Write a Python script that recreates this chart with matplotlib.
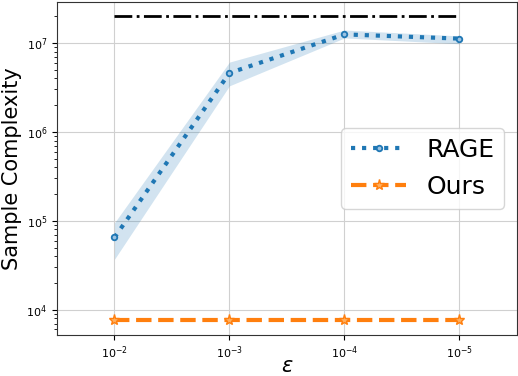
import numpy as np
import matplotlib
matplotlib.use("Agg")
import matplotlib.pyplot as plt

# данные
eps_labels = [r"$10^{-2}$", r"$10^{-3}$", r"$10^{-4}$", r"$10^{-5}$"]
rage_mean = [6.5e4, 4.6e6, 1.25e7, 1.12e7]
rage_low = [3.7e4, 3.3e6, 1.14e7, 9.8e6]
rage_high = [9.5e4, 6.1e6, 1.4e7, 1.2e7]
ours_mean = [7.7e3, 7.7e3, 7.7e3, 7.7e3]
upper_bound = [2.0e7, 2.0e7, 2.0e7, 2.0e7]

x = np.arange(len(eps_labels))

fig = plt.figure(figsize=(5.18, 3.76), dpi=100)
ax = fig.add_axes([0.110, 0.109, 0.888, 0.886])

ax.plot(x, upper_bound, color="black", linestyle="-.", linewidth=2)
ax.plot(x, rage_mean, color="#1f77b4", linestyle=":", linewidth=3, marker="o",
        markersize=4, markerfacecolor="#9cc3e3", markeredgewidth=1.3, label="RAGE")
ax.fill_between(x, rage_low, rage_high, color="#1f77b4", alpha=0.2, linewidth=0)
ax.plot(x, ours_mean, color="#ff7f0e", linestyle="--", linewidth=3, marker="*",
        markersize=8, markerfacecolor="#ffb060", markeredgewidth=1.0, label="Ours")

ax.set_yscale("log")
ax.set_ylim(5.2e3, 2.9e7)
ax.set_xlim(-0.5, 3.5)
ax.set_xticks(x)
ax.set_xticklabels(eps_labels)
ax.tick_params(labelsize=8)
ax.grid(True, color="#d0d0d0")
ax.set_axisbelow(True)

ax.set_xlabel(r"$\varepsilon$", fontsize=15, labelpad=-4)
ax.set_ylabel("Sample Complexity", fontsize=15, labelpad=3)
ax.legend(loc="center right", fontsize=18, handlelength=2.2)

for s in ax.spines.values():
    s.set_color("#333333")

fig.savefig("out.png", dpi=100)
